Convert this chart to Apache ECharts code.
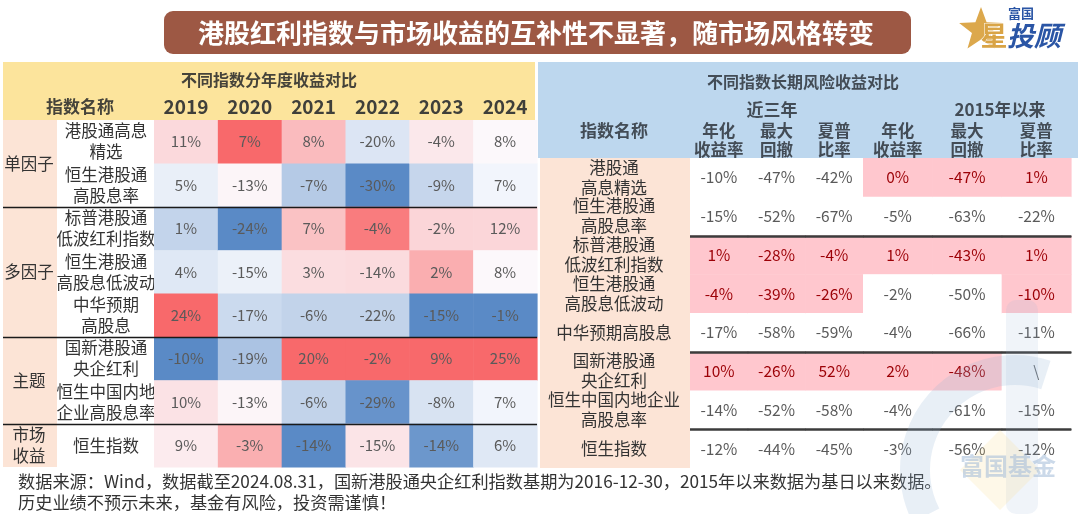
<!DOCTYPE html>
<html><head><meta charset="utf-8">
<script src="https://cdn.jsdelivr.net/npm/echarts@6/dist/echarts.min.js"></script>
<style>html,body{margin:0;padding:0;background:#fff}#c{width:1080px;height:514px}</style>
</head><body><div id="c"></div>
<script>
// ---------------- data ----------------
var chartTitle = '港股红利指数与市场收益的互补性不显著，随市场风格转变';
var leftTitle = '不同指数分年度收益对比';
var rightTitle = '不同指数长期风险收益对比';
var nameHeader = '指数名称';
var years = ['2019', '2020', '2021', '2022', '2023', '2024'];
var leftNames = ['港股通高息\n精选', '恒生港股通\n高股息率', '标普港股通\n低波红利指数', '恒生港股通\n高股息低波动',
  '中华预期\n高股息', '国新港股通\n央企红利', '恒生中国内地\n企业高股息率', '恒生指数'];
var groupNames = ['单因子', '多因子', '主题', '市场\n收益'];
var groupFirstRow = [0, 2, 5, 7];
var groupLastRow = [1, 4, 6, 7];
var ret2019 = [11, 5, 1, 4, 24, -10, 10, 9];
var ret2020 = [7, -13, -24, -15, -17, -19, -13, -3];
var ret2021 = [8, -7, 7, 3, -6, 20, -6, -14];
var ret2022 = [-20, -30, -4, -14, -22, -2, -29, -15];
var ret2023 = [-4, -9, -2, 2, -15, 9, -8, -14];
var ret2024 = [8, 7, 12, 8, -1, 25, 7, 6];

var rightNames = ['港股通\n高息精选', '恒生港股通\n高股息率', '标普港股通\n低波红利指数', '恒生港股通\n高股息低波动',
  '中华预期高股息', '国新港股通\n央企红利', '恒生中国内地企业\n高股息率', '恒生指数'];
var periodNames = ['近三年', '2015年以来'];
var metricNames = ['年化\n收益率', '最大\n回撤', '夏普\n比率'];
var ann3y = [-10, -15, 1, -4, -17, 10, -14, -12];
var mdd3y = [-47, -52, -28, -39, -58, -26, -52, -44];
var sharpe3y = [-42, -67, -4, -26, -59, 52, -58, -45];
var annSince = [0, -5, 1, -2, -4, 2, -4, -3];
var mddSince = [-47, -63, -43, -50, -66, -48, -61, -56];
var sharpeSince = [1, -22, 1, -10, -11, null, -15, -12];
// highlighted (light red fill) cells
var hlAnn3y = [0, 0, 1, 1, 0, 1, 0, 0];
var hlMdd3y = [0, 0, 1, 1, 0, 1, 0, 0];
var hlSharpe3y = [0, 0, 1, 1, 0, 1, 0, 0];
var hlAnnSince = [1, 0, 1, 0, 0, 1, 0, 0];
var hlMddSince = [1, 0, 1, 0, 0, 1, 0, 0];
var hlSharpeSince = [1, 0, 1, 1, 0, 0, 0, 0];

var note1 = '数据来源：Wind，数据截至2024.08.31，国新港股通央企红利指数基期为2016-12-30，2015年以来数据为基日以来数据。';
var note2 = '历史业绩不预示未来，基金有风险，投资需谨慎！';

// ---------------- helpers ----------------
var FONT = '"Noto Sans CJK SC", "Noto Sans", sans-serif';
var leftCols = [ret2019, ret2020, ret2021, ret2022, ret2023, ret2024];
var rightCols = [ann3y, mdd3y, sharpe3y, annSince, mddSince, sharpeSince];
var rightHl = [hlAnn3y, hlMdd3y, hlSharpe3y, hlAnnSince, hlMddSince, hlSharpeSince];

var RED = [248, 105, 107], WHITE = [252, 252, 255], BLUE = [90, 138, 198];
function mix(a, b, t) {
  t = Math.max(0, Math.min(1, t));
  return 'rgb(' + [0, 1, 2].map(function (k) { return Math.round(a[k] + (b[k] - a[k]) * t); }).join(',') + ')';
}
function scale3(vals) { // Excel style 3-colour scale: min / 50th percentile / max
  var s = vals.slice().sort(function (a, b) { return a - b; });
  var n = s.length;
  var med = n % 2 ? s[(n - 1) / 2] : (s[n / 2 - 1] + s[n / 2]) / 2;
  var mn = s[0], mx = s[n - 1];
  return function (v) {
    if (v >= med) return mix(WHITE, RED, mx === med ? 0 : (v - med) / (mx - med));
    return mix(WHITE, BLUE, (med - v) / (med - mn));
  };
}
var leftScales = leftCols.map(scale3);

// layout
var L = { left: 154, top: 120, width: 383, height: 347 };
var R1 = { left: 690, top: 158, width: 173, height: 310 };
var R2 = { left: 863, top: 158, width: 208, height: 310 };
var rowH = L.height / leftNames.length;
var rowHR = R1.height / rightNames.length;

var leftData = [], r1Data = [], r2Data = [];
years.forEach(function (y, ci) { leftNames.forEach(function (n, ri) { leftData.push([ci, ri]); }); });
rightCols.forEach(function (col, ci) {
  col.forEach(function (v, ri) { (ci < 3 ? r1Data : r2Data).push([ci % 3, ri, ci]); });
});

function renderLeft(params, api) {
  var ci = api.value(0), ri = api.value(1);
  var v = leftCols[ci][ri];
  var c = api.coord([ci, ri]), s = api.size([1, 1]);
  return { type: 'group', children: [
    { type: 'rect', shape: { x: c[0] - s[0] / 2, y: c[1] - s[1] / 2, width: s[0] + 0.6, height: s[1] + 0.6 },
      style: { fill: leftScales[ci](v) } },
    { type: 'text', style: { text: v + '%', x: c[0], y: c[1], align: 'center', verticalAlign: 'middle',
      fill: '#5a5a5a', fontSize: 15, fontFamily: FONT } }
  ] };
}
function renderRight(params, api) {
  var xi = api.value(0), ri = api.value(1), ci = api.value(2);
  var v = rightCols[ci][ri];
  var hl = rightHl[ci][ri];
  var c = api.coord([xi, ri]), s = api.size([1, 1]);
  var kids = [
    { type: 'rect', shape: { x: c[0] - s[0] / 2, y: c[1] - s[1] / 2, width: s[0] + 0.6, height: s[1] + 0.6 },
      style: { fill: hl ? '#FFC7CE' : '#ffffff' } },
    { type: 'text', style: { text: v === null ? '\\' : v + '%', x: c[0], y: c[1], align: 'center', verticalAlign: 'middle',
      fill: hl ? '#9C0006' : '#5a5a5a', fontSize: 15.5, fontFamily: FONT } }
  ];
  if (ri === 1 || ri === 4 || ri === 6) {
    var yb = Math.round(c[1] + s[1] / 2) + 0.5;
    kids.push({ type: 'line', z2: 100, shape: { x1: c[0] - s[0] / 2, y1: yb, x2: c[0] + s[0] / 2 + 0.6, y2: yb },
      style: { stroke: '#3c3c3c', lineWidth: 2 } });
  }
  return { type: 'group', children: kids };
}

var hidden = { show: false };
function catX(gi, data, showLabel) {
  showLabel.interval = 0;
  return { type: 'category', gridIndex: gi, data: data, position: 'top',
    axisLine: hidden, axisTick: hidden, splitLine: hidden,
    axisLabel: showLabel };
}
function catY(gi, data, showLabel) {
  showLabel.interval = 0;
  return { type: 'category', gridIndex: gi, data: data, inverse: true,
    axisLine: hidden, axisTick: hidden, splitLine: hidden, axisLabel: showLabel };
}

// graphics
var g = [];
// backgrounds
g.push({ type: 'rect', z: 0, shape: { x: 3, y: 62, width: 532, height: 58 }, style: { fill: '#FCE49C' } });
g.push({ type: 'rect', z: 0, shape: { x: 3, y: 120, width: 54, height: L.height }, style: { fill: '#FCE4D6' } });
g.push({ type: 'rect', z: 0, shape: { x: 538, y: 62, width: 540, height: 96 }, style: { fill: '#BDD7EE' } });
g.push({ type: 'rect', z: 0, shape: { x: 540, y: 158, width: 150, height: 310 }, style: { fill: '#FCE4D6' } });
// title banner
g.push({ type: 'rect', z: 0, shape: { x: 164, y: 11, width: 747, height: 43, r: 9 }, style: { fill: '#9D5844' } });
g.push({ type: 'text', z: 5, style: { text: chartTitle, x: 536, y: 33, align: 'center', verticalAlign: 'middle',
  fill: '#ffffff', fontSize: 26, fontWeight: 'bold', fontFamily: FONT } });
// logo
(function () {
  var pts = [], cx = 981, cy = 30, ro = 23, rin = 9.5;
  for (var i = 0; i < 10; i++) {
    var a = -Math.PI / 2 + i * Math.PI / 5, r = i % 2 ? rin : ro;
    pts.push([cx + r * Math.cos(a), cy + r * Math.sin(a)]);
  }
  g.push({ type: 'polygon', z: 5, shape: { points: pts }, style: { fill: '#DCA84C' } });
  g.push({ type: 'text', z: 6, style: { text: '富国', x: 1021, y: 13, align: 'center', verticalAlign: 'middle',
    fill: '#2A55A5', fontSize: 13, fontWeight: 'bold', fontFamily: FONT } });
  g.push({ type: 'text', z: 6, style: { text: '星', x: 994, y: 36, align: 'center', verticalAlign: 'middle',
    fill: '#D9A446', fontSize: 27, fontWeight: 'bold', fontFamily: FONT, stroke: '#fff', lineWidth: 1 } });
  g.push({ type: 'text', z: 6, style: { text: '投顾', x: 1034, y: 36, align: 'center', verticalAlign: 'middle',
    fill: '#2A55A5', fontSize: 27, fontWeight: 'bold', fontStyle: 'italic', fontFamily: FONT } });
})();
// panel headers
g.push({ type: 'text', z: 5, style: { text: leftTitle, x: 269, y: 80, align: 'center', verticalAlign: 'middle',
  fill: '#45433a', fontSize: 16, fontWeight: 'bold', fontFamily: FONT } });
g.push({ type: 'text', z: 5, style: { text: nameHeader, x: 80, y: 107, align: 'center', verticalAlign: 'middle',
  fill: '#45433a', fontSize: 17, fontWeight: 'bold', fontFamily: FONT } });
g.push({ type: 'text', z: 5, style: { text: rightTitle, x: 803, y: 82, align: 'center', verticalAlign: 'middle',
  fill: '#434c56', fontSize: 16, fontWeight: 'bold', fontFamily: FONT } });
g.push({ type: 'text', z: 5, style: { text: nameHeader, x: 614, y: 131, align: 'center', verticalAlign: 'middle',
  fill: '#434c56', fontSize: 17, fontWeight: 'bold', fontFamily: FONT } });
g.push({ type: 'text', z: 5, style: { text: periodNames[0], x: 772, y: 110, align: 'center', verticalAlign: 'middle',
  fill: '#434c56', fontSize: 17, fontWeight: 'bold', fontFamily: FONT } });
g.push({ type: 'text', z: 5, style: { text: periodNames[1], x: 1000, y: 110, align: 'center', verticalAlign: 'middle',
  fill: '#434c56', fontSize: 17, fontWeight: 'bold', fontFamily: FONT } });
// group labels
groupNames.forEach(function (nm, i) {
  var yc = L.top + (groupFirstRow[i] + groupLastRow[i] + 1) / 2 * rowH;
  g.push({ type: 'text', z: 5, style: { text: nm, x: 29, y: yc, align: 'center', verticalAlign: 'middle',
    fill: '#333', fontSize: 16.5, lineHeight: 21, fontFamily: FONT } });
});
// separator lines (drawn on an upper layer)
[1, 4, 6].forEach(function (ri) {
  var yl = Math.round(L.top + (ri + 1) * rowH) + 0.5;
  g.push({ type: 'line', zlevel: 1, z: 20, shape: { x1: 3, y1: yl, x2: L.left + L.width, y2: yl }, style: { stroke: '#1a1a1a', lineWidth: 1.6 } });
  var yr = Math.round(R1.top + (ri + 1) * rowHR) + 0.5;
  g.push({ type: 'line', zlevel: 1, z: 20, shape: { x1: R1.left, y1: yr, x2: R2.left + R2.width, y2: yr }, style: { stroke: '#3c3c3c', lineWidth: 2 } });
});
// watermark
g.push({ type: 'arc', zlevel: 1, z: 30, shape: { cx: 1015, cy: 470, r: 100, startAngle: Math.PI * 0.85, endAngle: Math.PI * 1.6 },
  style: { stroke: 'rgba(150,180,215,0.22)', lineWidth: 30, fill: 'none' } });
g.push({ type: 'rect', zlevel: 1, z: 30, shape: { x: 1006, y: 300, width: 32, height: 214, r: 10 }, style: { fill: 'rgba(150,180,215,0.14)' } });
g.push({ type: 'polygon', zlevel: 1, z: 30, shape: { points: [[1000, 430], [1040, 470], [1000, 510], [960, 470]] }, style: { fill: 'rgba(250,215,130,0.18)' } });
g.push({ type: 'text', zlevel: 1, z: 31, style: { text: '富国基金', x: 1008, y: 466, align: 'center', verticalAlign: 'middle',
  fill: 'rgba(160,185,215,0.55)', fontSize: 24, fontWeight: 'bold', fontFamily: FONT } });
// notes
g.push({ type: 'text', z: 5, style: { text: note1, x: 18, y: 481, verticalAlign: 'middle', fill: '#333', fontSize: 17.2, fontFamily: FONT } });
g.push({ type: 'text', z: 5, style: { text: note2, x: 18, y: 502, verticalAlign: 'middle', fill: '#333', fontSize: 17.2, fontFamily: FONT } });

var option = {
  backgroundColor: '#ffffff',
  animation: false,
  grid: [
    { left: L.left, top: L.top, width: L.width, height: L.height },
    { left: R1.left, top: R1.top, width: R1.width, height: R1.height },
    { left: R2.left, top: R2.top, width: R2.width, height: R2.height }
  ],
  xAxis: [
    catX(0, years, { margin: 13, verticalAlign: 'middle', fontSize: 19, fontWeight: 'bold', color: '#3f3f3a', fontFamily: FONT }),
    catX(1, metricNames, { margin: 18, verticalAlign: 'middle', fontSize: 16.5, lineHeight: 19, fontWeight: 'bold', color: '#434c56', fontFamily: FONT }),
    catX(2, metricNames, { margin: 18, verticalAlign: 'middle', fontSize: 16.5, lineHeight: 19, fontWeight: 'bold', color: '#434c56', fontFamily: FONT })
  ],
  yAxis: [
    catY(0, leftNames, { margin: 48, align: 'center', fontSize: 16.5, lineHeight: 21, color: '#333', fontFamily: FONT }),
    catY(1, rightNames, { margin: 76, align: 'center', fontSize: 16.5, lineHeight: 20, color: '#333', fontFamily: FONT }),
    catY(2, rightNames, { show: false })
  ],
  series: [
    { type: 'custom', xAxisIndex: 0, yAxisIndex: 0, data: leftData, renderItem: renderLeft },
    { type: 'custom', xAxisIndex: 1, yAxisIndex: 1, data: r1Data, renderItem: renderRight, z: 3 },
    { type: 'custom', xAxisIndex: 2, yAxisIndex: 2, data: r2Data, renderItem: renderRight, z: 3 }
  ],
  graphic: { elements: g }
};
var chart = echarts.init(document.getElementById('c'), null, { renderer: 'canvas' });
chart.setOption(option);
</script>
</body></html>
